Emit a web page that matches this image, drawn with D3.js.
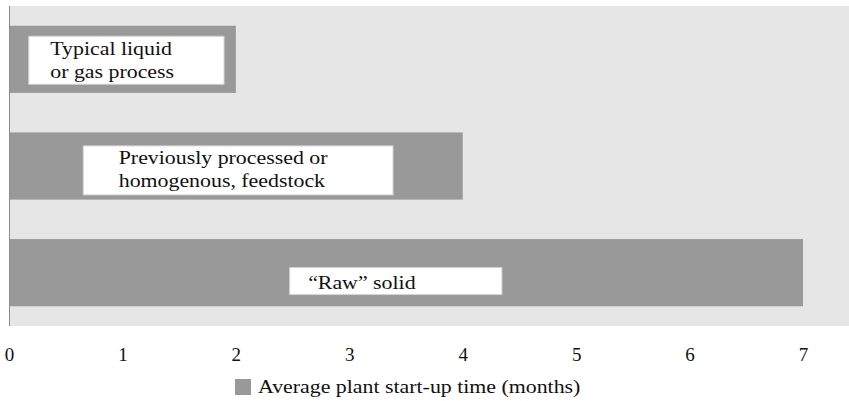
<!DOCTYPE html>
<html>
<head>
<meta charset="utf-8">
<script src="https://cdn.jsdelivr.net/npm/d3@7"></script>
<style>
  html, body { margin: 0; padding: 0; background: #fff; }
  svg { display: block; font-family: "Liberation Serif", "DejaVu Serif", serif; }
</style>
</head>
<body>
<svg id="chart" width="849" height="401"></svg>
<script>
// Plant start-up categories and their average start-up time (months)
const categories = ["liquid", "processed", "raw"];
const startupMonths = [2, 4, 7];
const labelLines = [
  ["Typical liquid", "or gas process"],
  ["Previously processed or", "homogenous, feedstock"],
  ["\u201CRaw\u201D solid"]
];
const tickValues = [0, 1, 2, 3, 4, 5, 6, 7];
const legendLabel = "Average plant start-up time (months)";

// Label box extents along the month axis, and offsets inside each bar
const boxStart = [0.17, 0.65, 2.47];
const boxEnd = [1.9, 3.39, 4.35];
const boxTop = [10, 13, 28];
const boxHeight = [49, 50, 28];
const textInset = [22, 36, 19];

const svg = d3.select("#chart");
const plot = { left: 9, right: 849, top: 6, bottom: 326 };
const fontSize = 19;
const widen = 1.15; // the serif used is set a little wider than the default face

// stretch a text node horizontally by a fixed factor
function widenText(sel) {
  sel.each(function() {
    const w = this.getComputedTextLength();
    d3.select(this).attr("textLength", w * widen).attr("lengthAdjust", "spacingAndGlyphs");
  });
}

const x = d3.scaleLinear().domain([0, 7]).range([plot.left, 803]);
const y = d3.scaleBand().domain(categories).range([plot.top, plot.bottom]).paddingInner(0.37).paddingOuter(0.185);

// plot background
svg.append("rect")
  .attr("x", plot.left).attr("y", plot.top)
  .attr("width", plot.right - plot.left).attr("height", plot.bottom - plot.top)
  .attr("fill", "#e6e6e6");

// bars
svg.append("g").selectAll("rect")
  .data(categories)
  .join("rect")
  .attr("x", x(0))
  .attr("y", d => y(d))
  .attr("width", (d, i) => x(startupMonths[i]) - x(0))
  .attr("height", y.bandwidth())
  .attr("fill", "#999999");

// label boxes
const labels = svg.append("g").selectAll("g")
  .data(categories)
  .join("g");

labels.append("rect")
  .attr("x", (d, i) => x(boxStart[i]) + 0.5)
  .attr("y", (d, i) => y(d) + boxTop[i] + 0.5)
  .attr("width", (d, i) => x(boxEnd[i]) - x(boxStart[i]) - 1)
  .attr("height", (d, i) => boxHeight[i] - 1)
  .attr("fill", "#ffffff")
  .attr("stroke", "#d4d4d4")
  .attr("stroke-width", 1);

labels.each(function(d, i) {
  const g = d3.select(this);
  const lines = labelLines[i];
  const tx = x(boxStart[i]) + textInset[i];
  const firstBase = y(d) + boxTop[i] + (lines.length > 1 ? 19 : 22);
  lines.forEach((line, k) => {
    g.append("text")
      .attr("x", tx)
      .attr("y", firstBase + k * 23)
      .attr("font-size", fontSize)
      .attr("fill", "#111")
      .text(line)
      .call(widenText);
  });
});

// vertical axis line
svg.append("line")
  .attr("x1", plot.left + 0.5).attr("x2", plot.left + 0.5)
  .attr("y1", plot.top).attr("y2", plot.bottom)
  .attr("stroke", "#8c8c8c").attr("stroke-width", 1);

// month axis labels
const xAxis = d3.axisBottom(x).tickValues(tickValues).tickSize(0).tickPadding(0).tickFormat(d3.format("d"));
const axisG = svg.append("g")
  .attr("transform", "translate(0, 347)")
  .call(xAxis);
axisG.select(".domain").remove();
axisG.selectAll("text")
  .attr("font-family", "Liberation Serif, DejaVu Serif, serif")
  .attr("font-size", fontSize)
  .attr("fill", "#111");

// legend
const legend = svg.append("g").attr("transform", "translate(235, 379)");
legend.append("rect")
  .attr("width", 16).attr("height", 16)
  .attr("fill", "#999999");
legend.append("text")
  .attr("x", 23).attr("y", 14)
  .attr("font-size", fontSize)
  .attr("fill", "#111")
  .text(legendLabel)
  .call(widenText);
</script>
</body>
</html>
